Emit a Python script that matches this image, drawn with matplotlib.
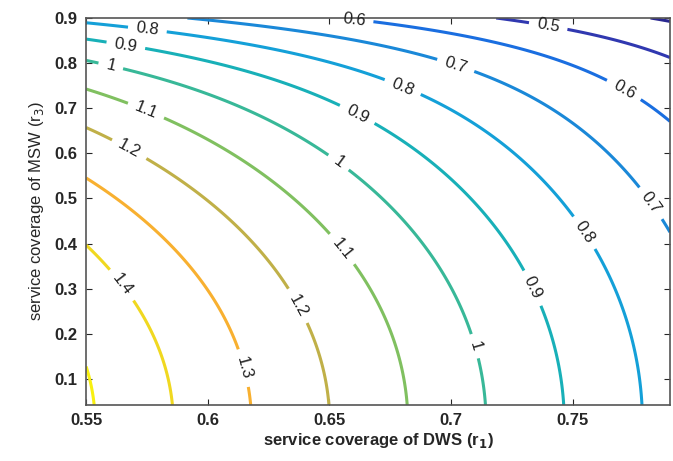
import numpy as np
import matplotlib
matplotlib.use('Agg')
import matplotlib.pyplot as plt

# contour levels drawn in the chart
levels = [0.4, 0.5, 0.6, 0.7, 0.8, 0.9, 1.0, 1.1, 1.2, 1.3, 1.4, 1.5]
level_colors = ['#2a2890', '#3038b0', '#1a6ee0', '#1a88d8', '#14a0d8', '#18b0b8',
                '#38b898', '#80c060', '#c0b048', '#f8b030', '#f0d820', '#f8f010']

# where each level cuts the frame
bot_levels = [1.5, 1.4, 1.3, 1.2, 1.1, 1.0, 0.9, 0.8]
bot_r1 = [0.555, 0.5873, 0.6193, 0.6508, 0.6836, 0.7156, 0.7471, 0.7795]
left_levels = [1.5, 1.4, 1.3, 1.2, 1.1, 1.0, 0.9, 0.8]
left_r3 = [0.105, 0.381, 0.547, 0.661, 0.743, 0.802, 0.849, 0.889]
top_levels = [0.7, 0.6, 0.5, 0.4]
top_r1 = [0.5926, 0.655, 0.7197, 0.785]
right_levels = [0.7, 0.6, 0.5, 0.4]
right_r3 = [0.425, 0.680, 0.814, 0.89]

xmin, xmax = 0.55, 0.79
ymin, ymax = 0.042, 0.9

# label spots (data coords)
label_pos = [(0.660, 0.891), (0.771, 0.740), (0.740, 0.884),
             (0.702, 0.796), (0.781, 0.485),
             (0.575, 0.867), (0.680, 0.745), (0.752, 0.414),
             (0.566, 0.829), (0.659, 0.661), (0.730, 0.292),
             (0.560, 0.791), (0.653, 0.574), (0.707, 0.168),
             (0.575, 0.700), (0.652, 0.374),
             (0.568, 0.612), (0.634, 0.253),
             (0.612, 0.120), (0.562, 0.297)]

# surface looks separable: f = (x0 - r1) * h(r3)
b, a = np.polyfit(bot_r1, bot_levels, 1)
x0 = -a / b
ys = [ymin] + left_r3 + right_r3 + [ymax] * len(top_levels)
hs = ([-b] + [l / (x0 - xmin) for l in left_levels]
      + [l / (x0 - xmax) for l in right_levels]
      + [l / (x0 - r) for l, r in zip(top_levels, top_r1)])
ys = np.array(ys)
A = np.column_stack([np.ones_like(ys), ys**2, ys**11])
coef = np.linalg.lstsq(A, np.array(hs), rcond=None)[0]

r1 = np.linspace(xmin, xmax, 300)
r3 = np.linspace(ymin, ymax, 300)
X, Y = np.meshgrid(r1, r3)
H = coef[0] + coef[1] * Y**2 + coef[2] * Y**11
Z = (x0 - X) * H

plt.rcParams['font.family'] = ['Liberation Sans', 'DejaVu Sans']
fig = plt.figure(figsize=(6.73, 4.61), dpi=100)
ax = fig.add_axes([0.128, 0.1215, 0.8675, 0.8395])
cs = ax.contour(X, Y, Z, levels=levels, colors=level_colors, linewidths=2.2)
lbls = ax.clabel(cs, inline=True, fontsize=12, fmt=lambda v: f'{v:g}',
                 manual=label_pos, inline_spacing=8, colors='#202020')
for t in lbls:
    t.set_clip_on(False)

ax.set_xlim(xmin, xmax)
ax.set_ylim(ymin, ymax)
ax.set_xticks([0.55, 0.6, 0.65, 0.7, 0.75])
ax.set_xticklabels(['0.55', '0.6', '0.65', '0.7', '0.75'])
ax.set_yticks([0.1, 0.2, 0.3, 0.4, 0.5, 0.6, 0.7, 0.8, 0.9])
ax.tick_params(direction='in', top=True, right=True, length=4,
               labelsize=12, colors='#262626', pad=6)
for t in ax.get_xticklabels() + ax.get_yticklabels():
    t.set_fontweight('bold')
for s in ax.spines.values():
    s.set_color('#555555')
    s.set_linewidth(1.2)
ax.set_xlabel('service coverage of DWS (r$_\\mathbf{1}$)', fontsize=12,
              fontweight='bold', color='#262626', labelpad=2)
ax.set_ylabel('service coverage of MSW (r$_3$)', fontsize=12,
              color='#262626', labelpad=6)

fig.savefig('out.png', dpi=100)
